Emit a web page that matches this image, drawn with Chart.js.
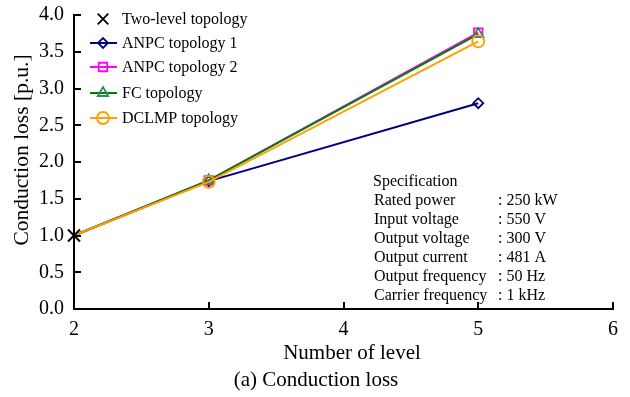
<!DOCTYPE html>
<html lang="en">
<head>
  <meta charset="UTF-8" />
  <title>Conduction loss</title>
  <script src="https://cdn.jsdelivr.net/npm/chart.js"></script>
  <style>
    body { margin: 0; background: #fff; }
    .wrap { width: 630px; height: 397px; position: relative; }
  </style>
</head>
<body>
  <div class="wrap"><canvas id="lossChart"></canvas></div>

  <script>
    // values
    const levels = [2, 3, 5];
    const twoLevel = [1.0];
    const anpc1 = [1.0, 1.74, 2.80];
    const anpc2 = [1.0, 1.75, 3.76];
    const fc = [1.0, 1.75, 3.74];
    const dclmp = [1.0, 1.73, 3.64];

    const specLabels = ['Rated power', 'Input voltage', 'Output voltage', 'Output current', 'Output frequency', 'Carrier frequency'];
    const specValues = [': 250 kW', ': 550 V', ': 300 V', ': 481 A', ': 50 Hz', ': 1 kHz'];

    const FONT = '"Liberation Serif", "DejaVu Serif", serif';

    const seriesDefs = [
      { label: 'Two-level topology', values: twoLevel, color: '#000000', style: 'crossRot', radius: 8.5 },
      { label: 'ANPC topology 1', values: anpc1, color: '#000080', style: 'rectRot', radius: 5 },
      { label: 'ANPC topology 2', values: anpc2, color: '#ff00ff', style: 'rect', radius: 6 },
      { label: 'FC topology', values: fc, color: '#2e8b57', style: 'triangle', radius: 6 },
      { label: 'DCLMP topology', values: dclmp, color: '#ffa000', style: 'circle', radius: 6 },
    ];

    const lineColors = ['#000000', '#000080', '#ff00ff', '#008000', '#ffa000'];

    const datasets = seriesDefs.map((s, i) => ({
      label: s.label,
      data: s.values.map((v, j) => ({ x: levels[j], y: v })),
      borderColor: lineColors[i],
      backgroundColor: 'rgba(0,0,0,0)',
      borderWidth: 2,
      pointStyle: s.style,
      // only the two-level marker is shown at level 2
      pointRadius: s.values.map((v, j) => (i > 0 && j === 0) ? 0 : s.radius),
      pointBorderColor: s.color,
      pointBorderWidth: i === 0 ? 2 : 1.8,
      pointBackgroundColor: 'rgba(0,0,0,0)',
      clip: false,
      order: i === 0 ? 0 : 5 - i
    }));

    const extras = {
      id: 'extras',
      afterDraw(chart) {
        const { ctx, chartArea, scales } = chart;
        const x = scales.x, y = scales.y;
        ctx.save();
        ctx.strokeStyle = '#000';
        ctx.lineWidth = 2;
        // inward ticks
        for (let v = 0.5; v <= 4.0001; v += 0.5) {
          const py = Math.round(y.getPixelForValue(v));
          ctx.beginPath();
          ctx.moveTo(chartArea.left, py);
          ctx.lineTo(chartArea.left + 7, py);
          ctx.stroke();
        }
        for (let v = 3; v <= 6; v++) {
          const px = Math.round(x.getPixelForValue(v));
          ctx.beginPath();
          ctx.moveTo(px, chartArea.bottom);
          ctx.lineTo(px, chartArea.bottom - 7);
          ctx.stroke();
        }

        // legend
        ctx.font = '16px ' + FONT;
        ctx.textBaseline = 'middle';
        ctx.textAlign = 'left';
        const rows = [19, 43, 67, 93, 118];
        seriesDefs.forEach((s, i) => {
          const ry = rows[i];
          ctx.lineWidth = 2;
          if (i > 0) {
            ctx.strokeStyle = lineColors[i];
            ctx.beginPath();
            ctx.moveTo(90, ry);
            ctx.lineTo(117, ry);
            ctx.stroke();
          }
          ctx.strokeStyle = s.color;
          ctx.fillStyle = 'rgba(0,0,0,0)';
          ctx.lineWidth = 1.8;
          const r = i === 0 ? 7.5 : s.radius;
          Chart.helpers.drawPoint(ctx, { pointStyle: s.style, radius: r, rotation: 0, borderWidth: 1.8 }, 103, ry);
          ctx.fillStyle = '#000';
          ctx.fillText(s.label, 122, ry + 1);
        });

        // specification box text
        ctx.fillStyle = '#000';
        ctx.fillText('Specification', 373, 182);
        specLabels.forEach((lab, i) => {
          const ry = 201 + i * 19;
          ctx.fillText(lab, 374, ry);
          ctx.fillText(specValues[i], 498, ry);
        });

        // axis titles and caption
        ctx.font = '21px ' + FONT;
        ctx.textAlign = 'center';
        ctx.fillText('Number of level', 352, 353);
        ctx.fillText('(a) Conduction loss', 316, 380);
        ctx.font = '21.5px ' + FONT;
        ctx.translate(22, 150);
        ctx.rotate(-Math.PI / 2);
        ctx.fillText('Conduction loss [p.u.]', 0, 0);
        ctx.restore();
      }
    };

    new Chart(document.getElementById('lossChart'), {
      type: 'line',
      data: { datasets },
      options: {
        responsive: true,
        maintainAspectRatio: false,
        animation: false,
        layout: { padding: { top: 12, right: 17, left: 0, bottom: 0 } },
        plugins: {
          legend: { display: false },
          tooltip: { enabled: false }
        },
        scales: {
          x: {
            type: 'linear',
            min: 2,
            max: 6,
            afterFit(scale) { scale.height = 88; },
            border: { color: '#000', width: 2 },
            grid: { drawOnChartArea: false, drawTicks: false },
            ticks: {
              stepSize: 1,
              padding: 9,
              color: '#000',
              font: { family: FONT, size: 20 },
              maxRotation: 0
            }
          },
          y: {
            min: 0,
            max: 4,
            afterFit(scale) { scale.width = 74; },
            border: { color: '#000', width: 2 },
            grid: { drawOnChartArea: false, drawTicks: false },
            ticks: {
              stepSize: 0.5,
              padding: 10,
              color: '#000',
              font: { family: FONT, size: 20, lineHeight: 0.5 },
              callback: v => Number(v).toFixed(1)
            }
          }
        }
      },
      plugins: [extras]
    });
  </script>
</body>
</html>
